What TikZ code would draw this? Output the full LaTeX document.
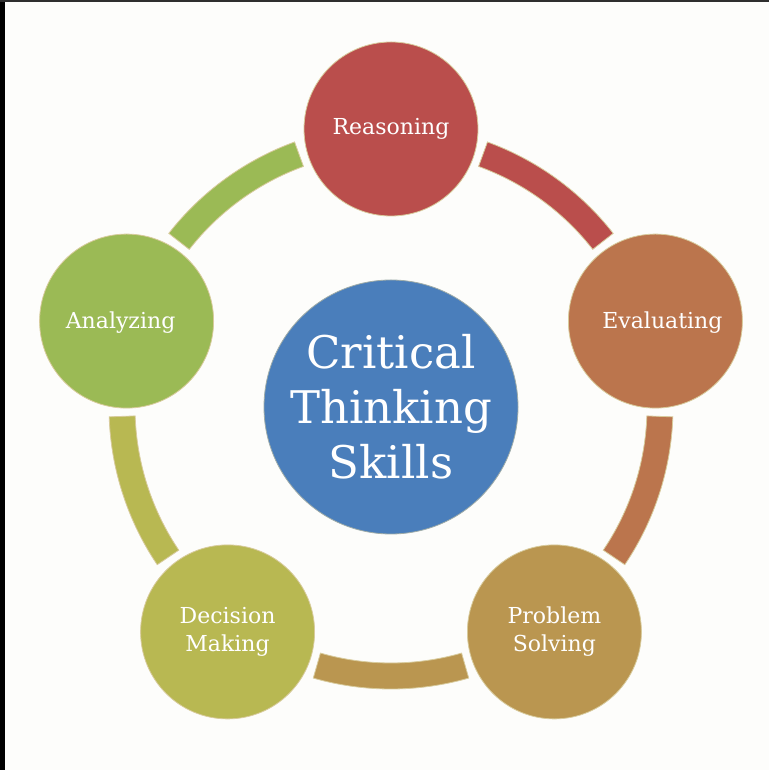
\documentclass[tikz,border=0pt]{standalone}
\usepackage{fontspec}
\setmainfont{DejaVu Serif}

\definecolor{paper}{HTML}{FDFDFB}
\definecolor{edgegray}{HTML}{2E2E2E}
\definecolor{rim}{HTML}{D8CB9C}
\definecolor{reasonred}{HTML}{BA4E4C}
\definecolor{evalorange}{HTML}{BB754D}
\definecolor{solvetan}{HTML}{BA9650}
\definecolor{decideolive}{HTML}{B8B852}
\definecolor{analyzegreen}{HTML}{9BBA55}
\definecolor{corblue}{HTML}{4A7EBB}

\tikzset{
    skill/.style={circle, minimum size=174pt, inner sep=0pt, draw=rim, line width=0.8pt,
        text=white, align=center, font=\fontsize{22}{28}\selectfont},
    skilltext/.style={text=white, font=\fontsize{22}{28}\selectfont},
    band/.style={draw=rim, line width=0.8pt},
}

\begin{document}
\begin{tikzpicture}[x=1pt,y=1pt]
    \useasboundingbox (0,0) rectangle (769,770);
    \fill[paper] (0,0) rectangle (769,770);

    % dark frame edges
    \fill[black] (0,0) rectangle (5,770);
    \fill[edgegray] (0,768) rectangle (769,770);

    \coordinate (hub) at (391,363);

    % bands between the skills
    \foreach \a/\c in {90/reasonred, 18/evalorange, -54/solvetan, -126/decideolive, -198/analyzegreen} {
        \filldraw[band, fill=\c, shift={(hub)}]
            (\a-52:256) arc[start angle=\a-52, end angle=\a-20, radius=256]
            -- (\a-20:282) arc[start angle=\a-20, end angle=\a-52, radius=282] -- cycle;
    }

    % skills
    \node[skill, fill=reasonred] (reason) at ([shift={(90:278)}]hub) {Reasoning};
    \node[skill, fill=evalorange, label={[skilltext, xshift=7pt, yshift=-2pt]center:Evaluating}] (evaluate) at ([shift={(18:278)}]hub) {};
    \node[skill, fill=solvetan] (solve) at ([shift={(-54:278)}]hub) {Problem\\Solving};
    \node[skill, fill=decideolive] (decide) at ([shift={(-126:278)}]hub) {Decision\\Making};
    \node[skill, fill=analyzegreen, label={[skilltext, xshift=-6pt, yshift=-2pt]center:Analyzing}] (analyze) at ([shift={(162:278)}]hub) {};

    % centre
    \node[circle, minimum size=254pt, inner sep=0pt, fill=corblue, draw=rim!60!corblue, line width=0.8pt,
        text=white, align=center, font=\fontsize{45}{55}\selectfont] (core) at (hub) {Critical\\Thinking\\Skills};

\end{tikzpicture}
\end{document}
